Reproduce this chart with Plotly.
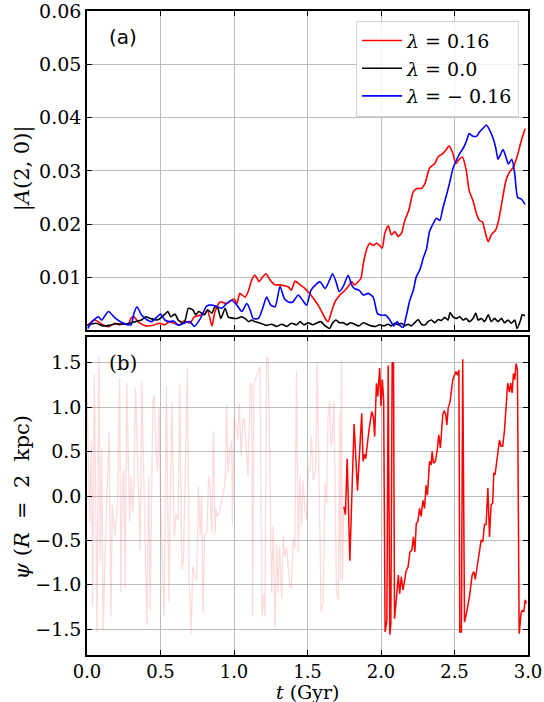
import plotly.graph_objects as go

# ---- panel (a): bar amplitude |A(2,0)| versus time, (t [Gyr], amplitude) ----
amp_pos = [(0.005,0.0011),(0.054,0.002),(0.10,0.0012),(0.146,0.00075),(0.19,0.0014),(0.22,0.0011),
           (0.25,0.0014),(0.28,0.0011),(0.30,0.0024),(0.32,0.0026),(0.35,0.0016),(0.40,0.0009),
           (0.45,0.001),(0.49,0.0014),(0.53,0.0011),(0.56,0.0017),(0.59,0.0014),(0.63,0.0011),
           (0.66,0.0018),(0.70,0.0014),(0.73,0.0026),(0.77,0.0029),(0.80,0.0032),(0.82,0.0038),
           (0.85,0.0009),(0.87,0.0035),(0.905,0.0054),(0.95,0.0051),(1.0,0.006),(1.02,0.0051),
           (1.04,0.007),(1.075,0.0063),(1.10,0.0076),(1.12,0.0095),(1.143,0.0104),(1.17,0.0092),
           (1.195,0.0101),(1.218,0.0107),(1.245,0.0095),(1.28,0.0086),(1.31,0.0086),(1.35,0.0084),
           (1.37,0.0082),(1.39,0.0076),(1.415,0.0093),(1.45,0.0086),(1.48,0.008),(1.517,0.0069),
           (1.55,0.0057),(1.585,0.0042),(1.62,0.0023),(1.64,0.0017),(1.664,0.0036),(1.687,0.0054),
           (1.72,0.0067),(1.755,0.0076),(1.777,0.0083),(1.80,0.0092),(1.82,0.0086),(1.845,0.0092),
           (1.863,0.0098),(1.88,0.0126),(1.90,0.0151),(1.924,0.0164),(1.947,0.016),(1.97,0.0164),
           (1.99,0.016),(2.008,0.0155),(2.026,0.0183),(2.05,0.0197),(2.07,0.018),(2.094,0.0186),
           (2.117,0.0177),(2.14,0.0183),(2.16,0.0205),(2.19,0.0227),(2.22,0.0261),(2.246,0.0267),
           (2.275,0.0267),(2.30,0.0277),(2.33,0.0305),(2.366,0.0314),(2.39,0.0327),(2.418,0.0332),
           (2.445,0.034),(2.463,0.0347),(2.486,0.0335),(2.51,0.0314),(2.53,0.0321),(2.554,0.0326),
           (2.58,0.0301),(2.60,0.0263),(2.626,0.0244),(2.65,0.0219),(2.67,0.0207),(2.69,0.0204),
           (2.717,0.0176),(2.73,0.0167),(2.75,0.018),(2.78,0.0189),(2.80,0.0207),(2.825,0.0245),
           (2.85,0.0282),(2.875,0.0298),(2.90,0.0307),(2.925,0.0326),(2.955,0.0357),(2.98,0.0379)]

amp_zero = [(0.0,0.001),(0.06,0.0014),(0.11,0.0009),(0.15,0.001),(0.20,0.0013),(0.24,0.0012),
            (0.29,0.0014),(0.33,0.0017),(0.37,0.002),(0.40,0.0026),(0.43,0.0023),(0.48,0.002),
            (0.53,0.0031),(0.55,0.0036),(0.57,0.0026),(0.60,0.0031),(0.62,0.002),(0.66,0.0014),
            (0.69,0.0042),(0.72,0.0039),(0.74,0.003),(0.76,0.0036),(0.80,0.003),(0.82,0.0039),
            (0.85,0.0033),(0.87,0.0045),(0.89,0.0042),(0.91,0.0023),(0.94,0.0042),(0.96,0.0026),
            (0.98,0.0024),(1.02,0.0023),(1.05,0.0026),(1.075,0.0023),(1.10,0.0017),(1.12,0.002),
            (1.14,0.0017),(1.18,0.0014),(1.22,0.001),(1.256,0.0012),(1.29,0.0008),(1.324,0.0012),
            (1.36,0.0008),(1.39,0.0014),(1.426,0.0011),(1.45,0.0017),(1.476,0.0011),(1.505,0.0015),
            (1.535,0.0011),(1.56,0.0014),(1.59,0.0017),(1.62,0.0009),(1.65,0.0004),(1.67,0.0014),
            (1.694,0.002),(1.716,0.0015),(1.743,0.0015),(1.766,0.0011),(1.793,0.0015),(1.82,0.0012),
            (1.85,0.0009),(1.88,0.0015),(1.906,0.0012),(1.936,0.0009),(1.965,0.0008),(1.99,0.0011),
            (2.02,0.0009),(2.05,0.0012),(2.07,0.0009),(2.094,0.0014),(2.117,0.0011),(2.14,0.0014),
            (2.16,0.0009),(2.185,0.0012),(2.207,0.0009),(2.23,0.0015),(2.253,0.0021),(2.275,0.0012),
            (2.30,0.0011),(2.32,0.0017),(2.343,0.002),(2.366,0.0015),(2.39,0.0021),(2.41,0.0019),
            (2.434,0.0025),(2.456,0.002),(2.47,0.0034),(2.49,0.0026),(2.513,0.0023),(2.536,0.0026),
            (2.558,0.002),(2.58,0.0023),(2.60,0.0017),(2.626,0.0023),(2.645,0.0033),(2.66,0.002),
            (2.683,0.0023),(2.705,0.0017),(2.73,0.003),(2.75,0.0017),(2.773,0.0023),(2.796,0.0017),
            (2.82,0.0023),(2.84,0.0015),(2.864,0.002),(2.886,0.0014),(2.91,0.002),(2.925,0.0004),
            (2.95,0.002),(2.96,0.003),(2.98,0.0028)]

amp_neg = [(0.005,0.0004),(0.034,0.0017),(0.077,0.0026),(0.10,0.002),(0.146,0.0036),(0.19,0.0024),
           (0.24,0.0015),(0.28,0.0011),(0.30,0.0011),(0.32,0.0033),(0.34,0.0045),(0.37,0.003),
           (0.41,0.002),(0.44,0.0017),(0.47,0.0024),(0.50,0.0031),(0.53,0.002),(0.56,0.0017),
           (0.59,0.0018),(0.62,0.001),(0.66,0.0014),(0.70,0.0017),(0.73,0.0008),(0.77,0.0022),
           (0.81,0.0045),(0.83,0.0048),(0.85,0.0048),(0.88,0.0046),(0.917,0.0042),(0.95,0.0051),
           (0.985,0.0057),(1.02,0.0048),(1.053,0.0036),(1.087,0.0051),(1.11,0.0039),(1.13,0.0023),
           (1.166,0.0023),(1.195,0.0042),(1.222,0.0063),(1.25,0.0048),(1.28,0.0045),(1.313,0.0083),
           (1.343,0.006),(1.37,0.0054),(1.40,0.0054),(1.437,0.0067),(1.467,0.0057),(1.494,0.0048),
           (1.524,0.0076),(1.555,0.0086),(1.585,0.0092),(1.62,0.0079),(1.65,0.0095),(1.67,0.0107),
           (1.694,0.0092),(1.716,0.0073),(1.743,0.0083),(1.777,0.0104),(1.80,0.0086),(1.82,0.0079),
           (1.85,0.0076),(1.88,0.0067),(1.913,0.007),(1.947,0.0063),(1.976,0.0032),(2.004,0.0029),
           (2.033,0.0029),(2.06,0.002),(2.087,0.0009),(2.11,0.0017),(2.128,0.001),(2.15,0.0006),
           (2.173,0.0029),(2.196,0.0057),(2.22,0.0076),(2.24,0.0101),(2.264,0.0114),(2.287,0.0136),
           (2.31,0.0154),(2.33,0.0186),(2.355,0.0201),(2.377,0.0211),(2.40,0.0207),(2.42,0.0229),
           (2.445,0.0254),(2.468,0.0279),(2.49,0.0305),(2.513,0.032),(2.536,0.0333),(2.558,0.0342),
           (2.58,0.0355),(2.60,0.037),(2.626,0.0365),(2.65,0.0365),(2.67,0.0373),(2.694,0.038),
           (2.717,0.0386),(2.74,0.0376),(2.76,0.0363),(2.78,0.0344),(2.796,0.0322),(2.81,0.0329),
           (2.83,0.034),(2.85,0.0326),(2.867,0.0313),(2.89,0.0322),(2.91,0.0294),(2.93,0.025),
           (2.955,0.0247),(2.98,0.0237)]

# ---- panel (b): bar phase angle psi at R = 2 kpc, (t [Gyr], psi [rad]) ----
# early, noisy phase (drawn faint)
phase_early = [(0.0,1.16),(0.018,-0.29),(0.03,0.62),(0.038,-1.24),(0.05,1.37),(0.068,-1.53),(0.08,1.58),
               (0.09,-0.76),(0.10,0.54),(0.11,-1.51),(0.124,-0.61),(0.15,0.73),(0.163,-1.36),(0.172,-0.10),
               (0.19,-0.45),(0.208,-0.04),(0.222,1.33),(0.23,-1.08),(0.242,0.17),(0.25,0.30),(0.26,-1.04),
               (0.27,1.27),(0.29,-0.29),(0.30,0.22),(0.312,-0.19),(0.32,0.22),(0.33,1.22),(0.344,0.33),
               (0.362,-0.61),(0.373,1.29),(0.385,0.26),(0.407,-1.45),(0.42,0.22),(0.43,-1.28),(0.448,1.07),
               (0.457,1.14),(0.47,0.45),(0.48,0.28),(0.49,0.99),(0.50,-0.04),(0.516,-0.91),(0.525,-1.36),
               (0.54,1.24),(0.548,0.33),(0.557,-1.19),(0.577,1.05),(0.593,-0.47),(0.606,-0.21),(0.62,-0.27),
               (0.63,1.26),(0.645,-0.83),(0.656,-0.72),(0.67,0.64),(0.683,1.44),(0.695,-0.94),(0.708,-1.56),
               (0.72,-0.79),(0.735,-0.92),(0.747,-0.94),(0.758,0.11),(0.77,-0.44),(0.78,0.0),(0.79,-1.32),
               (0.80,-0.45),(0.815,-0.42),(0.828,0.22),(0.837,0.11),(0.849,-0.42),(0.86,0.73),(0.871,-0.42),
               (0.878,-0.15),(0.887,-0.23),(0.90,-0.19),(0.916,-0.04),(0.928,0.07),(0.94,0.15),(0.95,1.03),
               (0.96,0.26),(0.973,0.54),(0.984,0.62),(0.99,-0.32),(1.0,0.88),(1.014,0.79),(1.025,0.64),
               (1.036,1.05),(1.048,0.45),(1.06,0.88),(1.07,0.86),(1.08,0.64),(1.095,0.22),(1.11,1.26),
               (1.12,1.27),(1.127,-1.34),(1.136,1.27),(1.145,1.31),(1.154,1.35),(1.165,1.39),(1.177,1.46),
               (1.19,-1.36),(1.20,-1.11),(1.21,-1.36),(1.222,1.56),(1.233,1.54),(1.245,0.17),(1.256,-1.09),
               (1.267,-0.34),(1.279,-1.49),(1.29,-0.53),(1.30,-1.09),(1.31,-0.57),(1.324,-1.15),(1.335,-0.45),
               (1.346,-0.68),(1.358,-0.57),(1.37,-0.79),(1.38,-1.02),(1.39,-1.04),(1.403,-0.47),(1.414,-0.59),
               (1.425,1.41),(1.437,-0.64),(1.448,0.22),(1.46,-0.34),(1.47,0.17),(1.482,-0.14),(1.494,-0.27),
               (1.505,0.30),(1.516,0.28),(1.527,0.67),(1.539,0.18),(1.545,0.20),(1.557,0.30),(1.566,1.50),
               (1.58,-0.02),(1.593,-1.30),(1.607,-1.19),(1.62,0.15),(1.63,-0.08),(1.64,0.90),(1.652,1.07),
               (1.66,0.56),(1.668,0.64),(1.68,1.07),(1.688,0.07),(1.697,-1.06),(1.71,-1.17),(1.718,0.95),
               (1.724,-0.95),(1.731,1.53),(1.738,-0.95),(1.747,-0.12)]

# later, coherent pattern rotation
phase_late = [(1.747,-0.12),(1.758,-0.21),(1.77,0.42),(1.788,-0.73),(1.817,0.81),(1.840,0.06),(1.869,0.93),
              (1.878,0.39),(1.887,0.47),(1.896,0.42),(1.918,0.74),(1.937,0.95),(1.948,0.89),(1.957,0.67),
              (1.969,1.27),(1.978,1.12),(1.991,1.44),(2.0,1.01),(2.009,1.31),(2.018,1.08),(2.028,-1.53),
              (2.04,-1.40),(2.049,1.47),(2.06,-1.56),(2.067,-1.44),(2.076,1.50),(2.085,1.50),(2.092,-1.38),
              (2.104,-1.17),(2.118,-0.89),(2.127,-1.10),(2.138,-0.91),(2.15,-1.06),(2.17,-0.85),(2.184,-0.80),
              (2.197,-0.63),(2.21,-0.61),(2.22,-0.46),(2.23,-0.63),(2.24,-0.31),(2.251,-0.29),(2.262,-0.14),
              (2.273,-0.23),(2.285,-0.05),(2.296,-0.14),(2.307,0.12),(2.316,0.01),(2.33,0.39),(2.341,0.35),
              (2.348,0.50),(2.357,0.37),(2.37,0.39),(2.384,0.54),(2.393,0.69),(2.404,0.54),(2.42,0.91),
              (2.43,0.96),(2.44,0.92),(2.448,0.80),(2.457,0.99),(2.47,1.06),(2.479,1.19),(2.488,1.31),
              (2.5,1.36),(2.51,1.40),(2.52,1.36),(2.53,1.42),(2.536,-1.53),(2.547,-1.53),(2.556,1.54),
              (2.568,-1.42),(2.584,-1.30),(2.602,-1.13),(2.62,-0.89),(2.632,-0.85),(2.641,-0.94),(2.659,-0.74),
              (2.67,-0.57),(2.681,-0.50),(2.693,-0.51),(2.704,-0.32),(2.715,-0.32),(2.727,0.09),(2.738,-0.46),
              (2.749,-0.10),(2.76,-0.08),(2.767,0.26),(2.776,0.24),(2.794,0.46),(2.806,0.63),(2.817,0.56),
              (2.828,0.56),(2.84,0.74),(2.851,0.97),(2.862,1.27),(2.874,1.17),(2.883,1.27),(2.892,1.16),
              (2.901,1.38),(2.91,1.31),(2.919,1.49),(2.928,1.42),(2.94,-1.55),(2.953,-1.32),(2.96,-1.29),
              (2.971,-1.30),(2.982,-1.17),(2.989,-1.21)]

NB = "\u00a0"
legend_names = ["<i>λ</i>" + NB + "=" + NB + "0.16",
                "<i>λ</i>" + NB + "=" + NB + "0.0",
                "<i>λ</i>" + NB + "=" + NB + "−" + NB + "0.16"]
x_ticks = [0.0, 0.5, 1.0, 1.5, 2.0, 2.5, 3.0]
amp_ticks = [0.01, 0.02, 0.03, 0.04, 0.05, 0.06]
phase_ticks = [-1.5, -1.0, -0.5, 0.0, 0.5, 1.0, 1.5]


def unzip(pairs):
    return [p[0] for p in pairs], [p[1] for p in pairs]


SERIF = "DejaVu Serif"
fig = go.Figure()

for pairs, name, color in [(amp_pos, legend_names[0], "#ff0000"),
                           (amp_zero, legend_names[1], "#000000"),
                           (amp_neg, legend_names[2], "#0000ff")]:
    t, v = unzip(pairs)
    fig.add_trace(go.Scatter(x=t, y=v, mode="lines", name=name, xaxis="x", yaxis="y",
                             line=dict(color=color, width=1.6, shape="spline", smoothing=0.6)))

t, v = unzip(phase_early)
fig.add_trace(go.Scatter(x=t, y=v, mode="lines", showlegend=False, xaxis="x2", yaxis="y2",
                         line=dict(color="rgba(240,110,110,0.25)", width=1.3)))
t, v = unzip(phase_late)
fig.add_trace(go.Scatter(x=t, y=v, mode="lines", showlegend=False, xaxis="x2", yaxis="y2",
                         line=dict(color="#ff0000", width=1.5)))

axis_common = dict(showline=True, linecolor="black", linewidth=1.6, mirror="allticks",
                   ticks="inside", ticklen=5, tickcolor="black", showgrid=True,
                   gridcolor="#bcbcbc", gridwidth=1, zeroline=False, automargin=False,
                   ticklabeloverflow="allow",
                   tickfont=dict(family=SERIF, size=19, color="black"))


def fmt(v):
    s = f"{v:.1f}"
    return s.replace("-", "−")


fig.update_layout(
    width=544, height=702,
    margin=dict(l=87, r=16, t=11, b=47, autoexpand=False),
    paper_bgcolor="white", plot_bgcolor="white",
    xaxis=dict(domain=[0, 1], range=[0, 3], anchor="y", tickvals=x_ticks,
               showticklabels=False, **axis_common),
    yaxis=dict(domain=[0.5047, 1], range=[0.00013, 0.06002], anchor="x", tickvals=amp_ticks,
               ticktext=[f"{v:.2f}" for v in amp_ticks], **axis_common),
    xaxis2=dict(domain=[0, 1], range=[0, 3], anchor="y2", tickvals=x_ticks,
                ticktext=[fmt(v) for v in x_ticks],
                **{**axis_common, "tickfont": dict(family=SERIF, size=18, color="black")}),
    yaxis2=dict(domain=[0, 0.4943], range=[-1.79, 1.794], anchor="x2", tickvals=phase_ticks,
                ticktext=[fmt(v) for v in phase_ticks], **axis_common),
    legend=dict(x=0.61, y=0.985, xanchor="left", yanchor="top",
                bgcolor="rgba(255,255,255,0.85)", bordercolor="#d4d4d4", borderwidth=1,
                font=dict(family=SERIF, size=19, color="black"), itemwidth=40),
    showlegend=True,
)

annotations = [
    dict(text="(a)", x=0.246, y=0.0551, xref="x", yref="y", showarrow=False,
         font=dict(family="DejaVu Sans", size=20, color="black")),
    dict(text="(b)", x=0.243, y=1.50, xref="x2", yref="y2", showarrow=False,
         font=dict(family=SERIF, size=20, color="black")),
    dict(text="|<i>A</i>(2, 0)|", x=-0.147, y=0.756, xref="paper", yref="paper",
         showarrow=False, textangle=-90, xanchor="center", yanchor="middle",
         font=dict(family=SERIF, size=21, color="black")),
    dict(text="<i>ψ</i>" + NB + "(<i>R</i>" + NB * 2 + "=" + NB * 2 + "2" + NB * 2 + "kpc)",
         x=-0.147, y=0.245, xref="paper", yref="paper",
         showarrow=False, textangle=-90, xanchor="center", yanchor="middle",
         font=dict(family=SERIF, size=21, color="black")),
    dict(text="<i>t</i>" + NB + "(Gyr)", x=0.5, y=-0.0776, xref="paper", yref="paper",
         showarrow=False, xanchor="center", yanchor="bottom",
         font=dict(family=SERIF, size=19, color="black")),
]
fig.update_layout(annotations=annotations)

fig.write_html("out.html")
